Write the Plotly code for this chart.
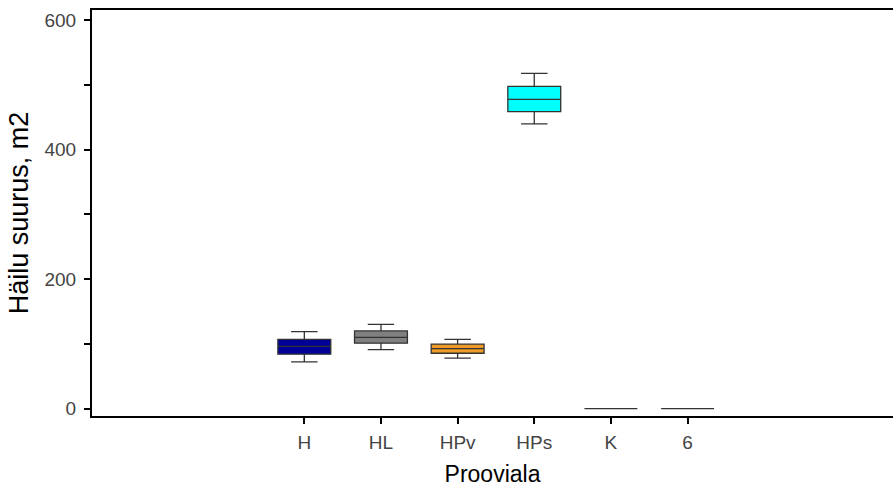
import plotly.graph_objects as go

categories = ["H", "HL", "HPv", "HPs", "K", "6"]
lower = [72, 91, 78, 440, 0, 0]
q1 = [84, 101, 85.5, 459, 0, 0]
median = [96, 110, 92.5, 478, 0, 0]
q3 = [107, 120, 99.5, 498, 0, 0]
upper = [119, 130, 107, 518, 0, 0]
colors = ["#000099", "#808080", "#F09A28", "#00FFFF", "#333333", "#333333"]

fig = go.Figure()
for i, c in enumerate(categories):
    fig.add_trace(go.Box(
        x=[c], q1=[q1[i]], median=[median[i]], q3=[q3[i]],
        lowerfence=[lower[i]], upperfence=[upper[i]],
        fillcolor=colors[i], line=dict(color="#333333", width=1.3),
        width=0.69, whiskerwidth=0.5, boxpoints=False, showlegend=False,
        hoverinfo="skip",
    ))

fig.update_layout(
    width=893, height=488, plot_bgcolor="white", paper_bgcolor="white",
    margin=dict(l=92, r=0, t=10, b=72), boxmode="overlay",
    font=dict(family="Liberation Sans, Arial", color="#444444", size=19),
)
fig.update_xaxes(
    type="category", categoryorder="array", categoryarray=categories,
    range=[-2.77, 7.68], showline=True, linecolor="black", linewidth=2, mirror=True,
    ticks="outside", ticklen=6, tickcolor="black", tickwidth=2,
    showgrid=False, zeroline=False, ticklabelstandoff=2, automargin=False,
    title=dict(text="Prooviala", font=dict(size=23, color="black"), standoff=14),
    tickfont=dict(size=19, color="#444444"),
)
fig.update_yaxes(
    range=[-11.5, 616], tickvals=[0, 200, 400, 600],
    showline=True, linecolor="black", linewidth=2,
    ticks="outside", ticklen=6, tickcolor="black", tickwidth=2,
    minor=dict(tickvals=[100, 300, 500], ticks="outside", ticklen=6, tickcolor="black", tickwidth=2),
    showgrid=False, zeroline=False, ticklabelstandoff=4, automargin=False,
    title=dict(text="Häilu suurus, m2", font=dict(size=27, color="black"), standoff=8),
    tickfont=dict(size=19, color="#444444"),
)
fig.write_html("out.html")
